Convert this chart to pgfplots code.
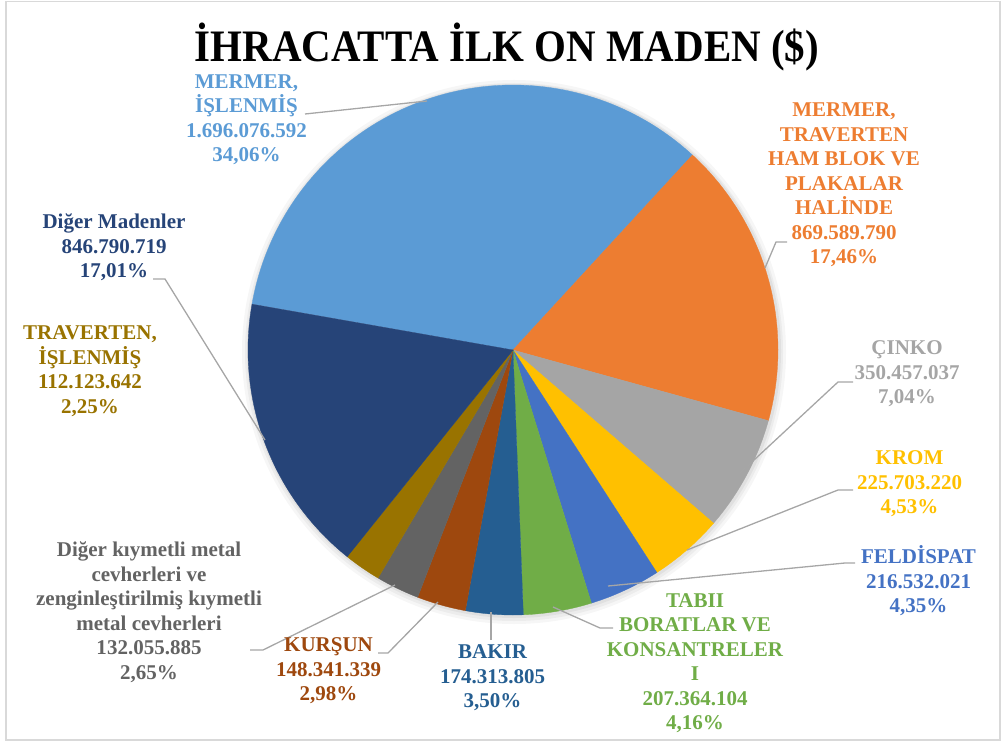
\documentclass[border=0pt]{standalone}
\usepackage{graphicx}
\usepackage{pgfplots}
\usepackage{pgfplotstable}
\pgfplotsset{compat=1.18}
\usepackage{fontspec}
\setmainfont{Liberation Serif}
\definecolor{c1}{HTML}{5B9BD5}
\definecolor{c2}{HTML}{ED7D31}
\definecolor{c3}{HTML}{A5A5A5}
\definecolor{c4}{HTML}{FFC000}
\definecolor{c5}{HTML}{4472C4}
\definecolor{c6}{HTML}{70AD47}
\definecolor{c7}{HTML}{255E91}
\definecolor{c8}{HTML}{9E480E}
\definecolor{c9}{HTML}{636363}
\definecolor{c10}{HTML}{997300}
\definecolor{c11}{HTML}{264478}
\definecolor{leader}{HTML}{A6A6A6}
\definecolor{frame}{HTML}{D9D9D9}
\pgfplotstableread[col sep=comma]{
name,value,pct,color
Mermer islenmis,1696076592,34.06,c1
Mermer traverten ham blok,869589790,17.46,c2
Cinko,350457037,7.04,c3
Krom,225703220,4.53,c4
Feldispat,216532021,4.35,c5
Tabii boratlar,207364104,4.16,c6
Bakir,174313805,3.50,c7
Kursun,148341339,2.98,c8
Diger kiymetli,132055885,2.65,c9
Traverten islenmis,112123642,2.25,c10
Diger madenler,846790719,17.01,c11
}\madentable
\newcommand\lbl{\fontsize{21bp}{24.5bp}\selectfont\bfseries}
\begin{document}
\begin{tikzpicture}
\begin{axis}[
  x=1bp, y=1bp,
  xmin=0, xmax=1003, ymin=0, ymax=743,
  y dir=reverse,
  hide axis,
  clip=false,
]
% soft shadow around the pie
\fill[black, opacity=0.035] (axis cs:514,352) circle[radius=272bp];
\fill[black, opacity=0.04] (axis cs:514,352) circle[radius=269bp];
\fill[black, opacity=0.05] (axis cs:514,351) circle[radius=267bp];
\def\cum{0}
\pgfplotsforeachungrouped \i in {0,...,10}{%
  \pgfplotstablegetelem{\i}{pct}\of\madentable
  \let\p=\pgfplotsretval
  \pgfplotstablegetelem{\i}{color}\of\madentable
  \let\c=\pgfplotsretval
  \pgfmathsetmacro\a{170-3.6*\cum}%
  \pgfmathsetmacro\b{170-3.6*(\cum+\p)}%
  \pgfmathsetmacro\cum{\cum+\p}%
  \edef\doslice{\noexpand\addplot[fill=\c, draw=\c, line width=0.3bp, domain=\b:\a, samples=90] ({513+265*cos(x)},{350-265*sin(x)}) -- (axis cs:513,350) -- cycle;}%
  \doslice
}
% bounding box and frame
\path (axis description cs:0,0) rectangle (axis description cs:1,1);
\draw[frame, line width=1.2bp] (axis cs:6,1.5) rectangle (axis cs:1000,740);
% title
\node[anchor=base, font=\fontsize{45bp}{52bp}\selectfont\bfseries] at (axis cs:507,62) {\scalebox{0.91}[1]{İHRACATTA İLK ON MADEN (\$)}};
% leader lines
\begin{scope}[leader, line width=1.3bp]
\draw (axis cs:305,114) -- (axis cs:427,101);
\draw (axis cs:787,242) -- (axis cs:776,242) -- (axis cs:765,268);
\draw (axis cs:853,382) -- (axis cs:838,382) -- (axis cs:740,473);
\draw (axis cs:853,490) -- (axis cs:838,490) -- (axis cs:687,550);
\draw (axis cs:855,563) -- (axis cs:845,563) -- (axis cs:608,586);
\draw (axis cs:613,628) -- (axis cs:600,628) -- (axis cs:553,607);
\draw (axis cs:491,640) -- (axis cs:491,612);
\draw (axis cs:378,653) -- (axis cs:388,653) -- (axis cs:438,602);
\draw (axis cs:250,650) -- (axis cs:263,650) -- (axis cs:395,585);
\draw (axis cs:153,279) -- (axis cs:165,279) -- (axis cs:265,440);
\end{scope}
% labels
\node[align=center, text=c1, font=\lbl] at (axis cs:246.5,119.5) {MERMER,\\İŞLENMİŞ\\1.696.076.592\\34,06\%};
\node[align=center, text=c2, font=\lbl] at (axis cs:844,185) {MERMER,\\TRAVERTEN\\HAM BLOK VE\\PLAKALAR\\HALİNDE\\869.589.790\\17,46\%};
\node[align=center, text=c3, font=\lbl] at (axis cs:907,374) {ÇINKO\\350.457.037\\7,04\%};
\node[align=center, text=c4, font=\lbl] at (axis cs:909.5,484) {KROM\\225.703.220\\4,53\%};
\node[align=center, text=c5, font=\lbl] at (axis cs:918.5,581) {FELDİSPAT\\216.532.021\\4,35\%};
\node[align=center, text=c6, font=\lbl] at (axis cs:695,663) {TABII\\BORATLAR VE\\KONSANTRELER\\I\\207.364.104\\4,16\%};
\node[align=center, text=c7, font=\lbl] at (axis cs:492.5,678) {BAKIR\\174.313.805\\3,50\%};
\node[align=center, text=c8, font=\lbl] at (axis cs:328.5,671) {KURŞUN\\148.341.339\\2,98\%};
\node[align=center, text=c9, font=\lbl] at (axis cs:149,612) {Diğer kıymetli metal\\cevherleri ve\\zenginleştirilmiş kıymetli\\metal cevherleri\\132.055.885\\2,65\%};
\node[align=center, text=c10, font=\lbl] at (axis cs:90,371) {TRAVERTEN,\\İŞLENMİŞ\\112.123.642\\2,25\%};
\node[align=center, text=c11, font=\lbl] at (axis cs:114,247.5) {Diğer Madenler\\846.790.719\\17,01\%};
\end{axis}
\end{tikzpicture}
\end{document}
